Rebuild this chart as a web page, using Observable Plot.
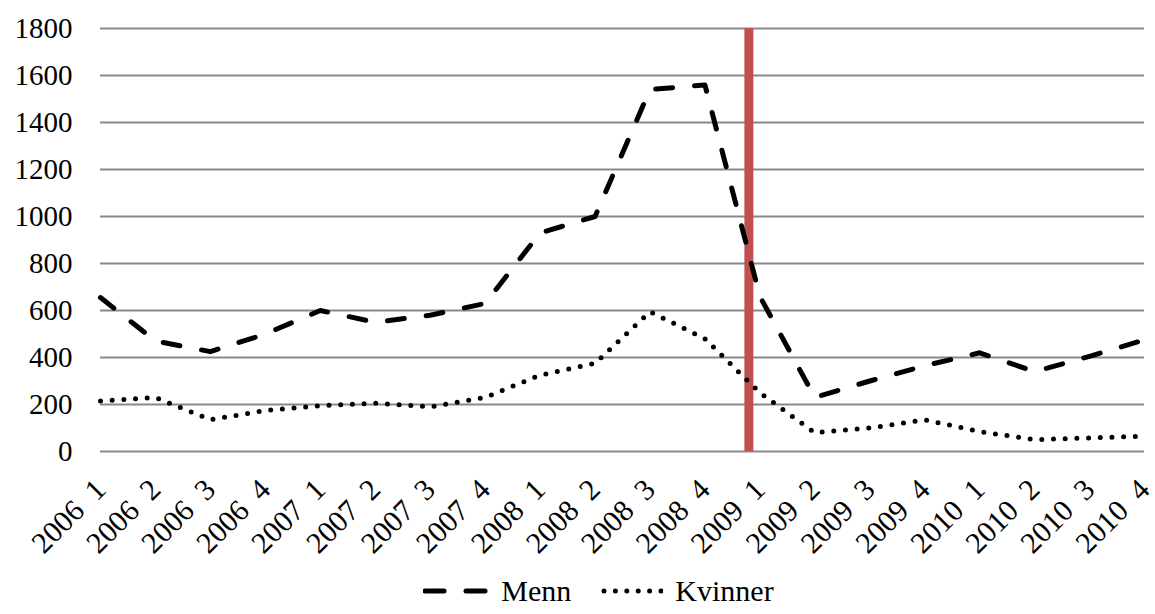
<!DOCTYPE html>
<html>
<head>
<meta charset="utf-8">
<script src="https://cdn.jsdelivr.net/npm/d3@7"></script>
<script src="https://cdn.jsdelivr.net/npm/@observablehq/plot@0.6"></script>
<style>
  html, body { margin: 0; padding: 0; background: #fff; }
  #chart { width: 1155px; }
  #chart svg, #chart svg text { font-family: "Liberation Serif", "Times New Roman", serif !important; }
  .legend { height: 46px; display: flex; align-items: center; justify-content: center; padding-left: 42px; box-sizing: border-box;
    font-family: "Liberation Serif", "Times New Roman", serif; font-size: 30px; color: #000; }
  .legend .item { display: flex; align-items: center; margin: 0 15px; }
  .legend svg { margin-right: 12px; }
</style>
</head>
<body>
<div id="chart"></div>
<script>
const quarters = ["2006 1","2006 2","2006 3","2006 4","2007 1","2007 2","2007 3","2007 4",
  "2008 1","2008 2","2008 3","2008 4","2009 1","2009 2","2009 3","2009 4",
  "2010 1","2010 2","2010 3","2010 4"];
const menn =     [655, 470, 425, 500, 600, 550, 580, 630, 930, 1000, 1540, 1560, 660, 230, 300, 365, 420, 340, 405, 475];
const kvinner =  [215, 230, 135, 175, 195, 205, 190, 230, 325, 375, 595, 480, 250, 80, 100, 135, 85, 50, 58, 65];
const yTicks = [0, 200, 400, 600, 800, 1000, 1200, 1400, 1600, 1800];
const breakAt = 11.8; // red marker between 2008 4 and 2009 1

const rows = quarters.map((q, i) => ({i, q, menn: menn[i], kvinner: kvinner[i]}));
const fmtQ = i => quarters[i].replace(" ", "\u2002");

const plot = Plot.plot({
  width: 1155,
  height: 568,
  marginLeft: 100,
  marginRight: 11,
  marginTop: 28,
  marginBottom: 117,
  style: {fontFamily: "'Liberation Serif', 'Times New Roman', serif", fontSize: "30px", color: "#000", background: "#fff"},
  x: {domain: [0, quarters.length - 1], ticks: quarters.map((_, i) => i), tickFormat: fmtQ},
  y: {domain: [0, 1800], ticks: yTicks, tickFormat: d => String(d)},
  marks: [
    Plot.ruleY(yTicks, {stroke: "#898989", strokeWidth: 2}),
    Plot.ruleX([breakAt], {y1: 0, y2: 1800, stroke: "#c0504d", strokeWidth: 9}),
    Plot.line(rows, {x: "i", y: "menn", curve: "linear", stroke: "#000", strokeWidth: 5, strokeDasharray: "17 22", strokeLinecap: "round", strokeLinejoin: "round"}),
    Plot.line(rows, {x: "i", y: "kvinner", curve: "linear", stroke: "#000", strokeWidth: 5, strokeDasharray: "0 11.7", strokeLinecap: "round"}),
    Plot.axisY({ticks: yTicks, tickFormat: d => String(d), tickSize: 0, tickPadding: 28, label: null, fontSize: 29}),
    Plot.axisX({ticks: quarters.map((_, i) => i), tickFormat: fmtQ, tickSize: 0, tickPadding: 33, tickRotate: -45, label: null, fontSize: 30})
  ]
});
document.getElementById("chart").appendChild(plot);

const legend = document.createElement("div");
legend.className = "legend";
legend.innerHTML = `
  <div class="item"><svg width="66" height="10"><line x1="2" y1="5" x2="64" y2="5" stroke="#000" stroke-width="5" stroke-dasharray="19 22" stroke-linecap="round"/></svg><span>Menn</span></div>
  <div class="item"><svg width="62" height="10"><line x1="3" y1="5" x2="60" y2="5" stroke="#000" stroke-width="5" stroke-dasharray="0 11.4" stroke-linecap="round"/></svg><span>Kvinner</span></div>`;
document.getElementById("chart").appendChild(legend);
</script>
</body>
</html>
